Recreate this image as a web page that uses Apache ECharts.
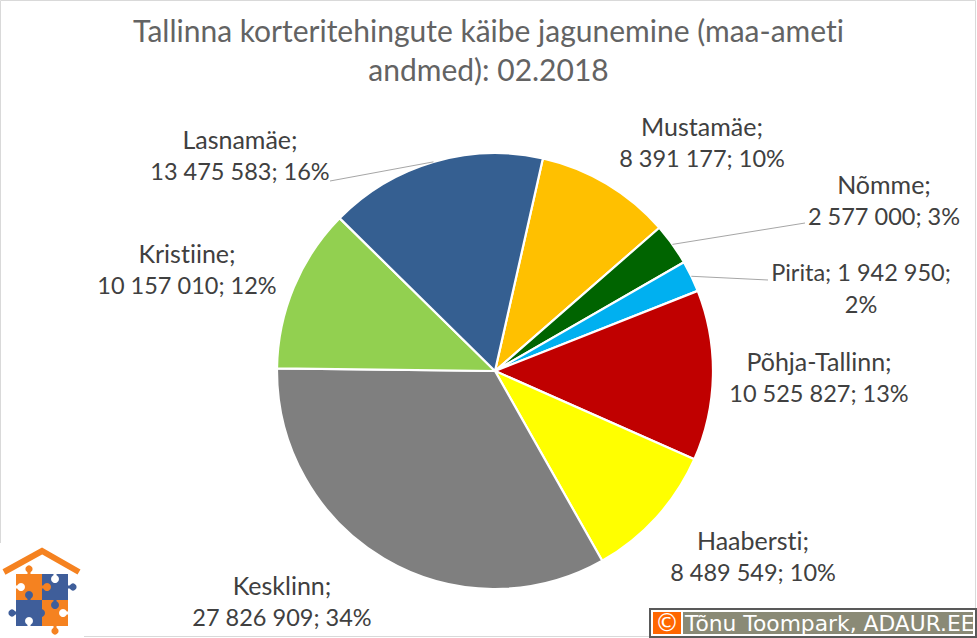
<!DOCTYPE html>
<html><head><meta charset="utf-8">
<style>html,body{margin:0;padding:0;background:#fff}#c{width:977px;height:638px}svg text{font-variant-ligatures:none}</style>
<script src="https://cdn.jsdelivr.net/npm/echarts@6/dist/echarts.min.js"></script>
</head><body><div id="c"></div>
<script>
const categories = ['Mustamäe','Nõmme','Pirita','Põhja-Tallinn','Haabersti','Kesklinn','Kristiine','Lasnamäe'];
const values = [8391177,2577000,1942950,10525827,8489549,27826909,10157010,13475583];
const percents = [10,3,2,13,10,34,12,16];
const sliceColors = ['#FFC000','#006400','#00B0F0','#C00000','#FFFF00','#7F7F7F','#92D050','#355F91'];
const labelBreak = [1,1,2,1,1,1,1,1];
const labelCentres = [[702,142],[884,200],[861,288],[819,377],[753,556],[282,601],[187,269],[240,155]];
const leaderEnds = [null,[805,223],[768,280],null,null,null,null,[330,181]];
const titleText = 'Tallinna korteritehingute käibe jagunemine (maa-ameti\nandmed): 02.2018';
const creditText = 'Tõnu Toompark, ADAUR.EE';

const fmt = v => String(v).replace(/\B(?=(\d{3})+$)/g,' ');
const total = values.reduce((a,b)=>a+b,0);
const font = 'Lato';
const cx=495, cy=371, radius=218, startDeg=12.7;
const chart = echarts.init(document.getElementById('c'),null,{renderer:'svg'});
const c = (x,y,r,fill)=>({type:'circle',shape:{cx:x,cy:y,r},style:{fill},z:11});
const R = (x,y,w,h,fill,extra)=>({type:'rect',shape:{x,y,width:w,height:h},style:Object.assign({fill},extra||{}),z:11});
const OR='#F58220', BL='#3F5E9A', W='#fff';
let acc=startDeg;
const leaders=[];
values.forEach((v,i)=>{
  const sweep=v/total*360, mid=(acc+sweep/2)*Math.PI/180; acc+=sweep;
  if(leaderEnds[i]) leaders.push({type:'line',shape:{x1:cx+radius*Math.sin(mid),y1:cy-radius*Math.cos(mid),x2:leaderEnds[i][0],y2:leaderEnds[i][1]},style:{stroke:'#A6A6A6',lineWidth:1},z:5});
});
chart.setOption({
  animation:false,
  backgroundColor:'#fff',
  title:{text:titleText,left:'center',top:10,padding:0,itemGap:0,
    textStyle:{fontFamily:font,fontSize:30,fontWeight:'normal',color:'#636363',lineHeight:39}},
  series:[{
    type:'pie',center:[cx,cy],radius:[0,radius],startAngle:90-startDeg,clockwise:true,
    avoidLabelOverlap:false,
    itemStyle:{borderColor:'#fff',borderWidth:2.2},
    emphasis:{disabled:true},
    label:{show:true,fontFamily:font,fontSize:23.5,color:'#404040',lineHeight:32.5,align:'center',verticalAlign:'middle',
      rich:{
        n:{fontFamily:font,fontSize:25,color:'#404040',lineHeight:32.5,align:'center'},
        v:{fontFamily:font,fontSize:23.5,color:'#404040',lineHeight:32.5,align:'center'}
      },
      formatter:p=>{
        const i=p.dataIndex, pct=percents[i]+'%';
        return labelBreak[i]===2
          ? `{v|${categories[i]}; ${fmt(values[i])};}\n{v|${pct}}`
          : `{n|${categories[i]};}\n{v|${fmt(values[i])}; ${pct}}`;
      }},
    labelLine:{show:false},
    labelLayout:p=>({x:labelCentres[p.dataIndex][0],y:labelCentres[p.dataIndex][1],align:'center',verticalAlign:'middle',moveOverlap:false}),
    data:categories.map((name,i)=>({name,value:values[i],itemStyle:{color:sliceColors[i]}}))
  }],
  graphic:[
    R(0.5,0.5,975,636,'none',{stroke:'#D9D9D9',lineWidth:1}),
    ...leaders,
    R(0,543,84,95,'#fff'),
    {type:'polyline',shape:{points:[[4,572],[42,551],[79,572]]},style:{stroke:OR,lineWidth:6,fill:'none'},z:11},
    R(16,574,26,26,OR),R(42,574,26,26,BL),R(16,600,26,26,BL),R(42,600,26,26,OR),
    c(29,569,3.6,OR),R(27.5,569,3,5,OR),
    c(47,587,4,OR),R(42,585.5,5,3,OR),
    c(73,587,3.6,BL),R(68,585.5,5,3,BL),
    c(29,595,4,BL),R(27.5,595,3,5,BL),
    c(12,613,3.6,BL),R(12,611.5,4,3,BL),
    c(41,613,4,BL),
    c(55,605,4,BL),R(53.5,600,3,5,BL),
    c(55,631,3.6,OR),R(53.5,626,3,5,OR),
    c(21,587,4,W),R(16,585.5,5,3,W),
    c(55,579,4,W),R(53.5,574,3,5,W),
    c(29,621,4,W),R(27.5,621,3,5,W),
    c(63,613,4,W),R(63,611.5,5,3,W),
    R(650,609,326,28,'#fff',{stroke:'#595959',lineWidth:2}),
    R(653,612,28,22,'#FF6600'),
    R(683,612,290,22,'#8A8A76'),
    {type:'text',x:667,y:623,style:{text:'©',fill:'#fff',font:'24px "DejaVu Sans"',align:'center',verticalAlign:'middle'},z:12},
    {type:'text',x:685,y:623,style:{text:creditText,fill:'#fff',font:'21.8px "DejaVu Sans"',align:'left',verticalAlign:'middle'},z:12}
  ]
});
</script></body></html>
